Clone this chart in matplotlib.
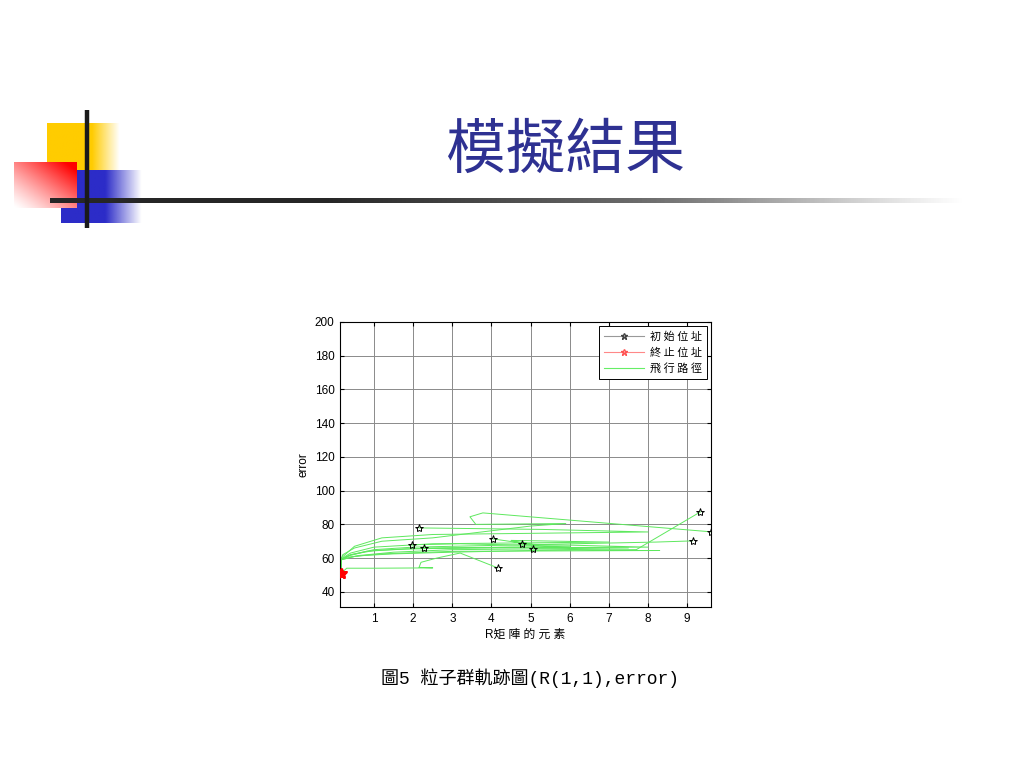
import matplotlib
matplotlib.use('Agg')
import matplotlib.pyplot as plt
import numpy as np
from matplotlib.lines import Line2D

plt.rcParams['font.family'] = ['Liberation Sans', 'Noto Sans CJK TC', 'DejaVu Sans']

# Particle start positions (black stars)
start_x = [9.34, 9.60, 9.14, 5.06, 4.78, 4.16, 4.03, 2.15, 1.97, 2.28]
start_y = [87.4, 75.6, 70.2, 65.5, 68.4, 54.2, 71.4, 77.9, 67.9, 66.0]

# Particle end positions (red stars)
end_x = [0.16, 0.15, 0.17, 0.16, 0.15, 0.16, 0.17, 0.16, 0.15, 0.16]
end_y = [50.7, 51.2, 50.3, 51.0, 50.5, 50.9, 51.3, 50.6, 50.8, 51.1]

# Flight paths (green), one list per particle
path_x = [
    [9.34, 7.7, 5.0, 3.0, 1.5, 0.7, 0.3, 0.16, 0.16],
    [9.60, 3.78, 3.45, 3.6, 5.9, 5.0, 2.5, 1.2, 0.5, 0.2, 0.16, 0.15],
    [9.14, 8.2, 4.0, 2.0, 1.0, 0.4, 0.16, 0.17],
    [5.06, 7.7, 8.3, 3.0, 1.2, 0.5, 0.16, 0.16],
    [4.78, 8.0, 3.5, 1.8, 0.8, 0.3, 0.16, 0.15],
    [4.16, 3.2, 2.6, 2.2, 2.15, 2.5, 1.0, 0.3, 0.16],
    [4.03, 5.2, 4.5, 7.0, 2.5, 1.0, 0.4, 0.16, 0.17],
    [2.15, 5.3, 8.0, 2.5, 1.2, 0.5, 0.16, 0.16],
    [1.97, 3.2, 6.0, 2.0, 1.0, 0.4, 0.16, 0.15],
    [2.28, 4.5, 7.5, 3.0, 1.5, 0.6, 0.16, 0.16],
]
path_y = [
    [87.4, 65.0, 64.5, 63.5, 62.5, 61.5, 60.5, 59.0, 50.7],
    [75.6, 86.8, 84.5, 80.0, 80.5, 79.0, 72.0, 70.0, 66.0, 62.0, 59.5, 51.2],
    [70.2, 69.5, 67.5, 66.5, 65.0, 62.0, 59.0, 50.3],
    [65.5, 64.5, 64.5, 64.0, 62.5, 61.0, 59.0, 51.0],
    [68.4, 66.5, 66.0, 65.5, 64.0, 61.0, 59.0, 50.5],
    [54.2, 63.0, 60.0, 57.5, 54.5, 54.2, 54.0, 54.0, 50.9],
    [71.4, 67.5, 70.5, 69.5, 68.5, 66.5, 63.0, 59.5, 51.3],
    [77.9, 77.0, 75.5, 74.0, 72.0, 67.0, 60.0, 50.6],
    [67.9, 68.5, 67.0, 65.5, 64.5, 62.0, 59.0, 50.8],
    [66.0, 66.5, 66.0, 65.0, 63.5, 61.5, 59.0, 51.1],
]

x_ticks = [1, 2, 3, 4, 5, 6, 7, 8, 9]
y_ticks = [40, 60, 80, 100, 120, 140, 160, 180, 200]
legend_labels = ['初 始 位 址', '終 止 位 址', '飛 行 路 徑']

fig = plt.figure(figsize=(10.24, 7.68), dpi=100)

# slide decoration layer in pixel coordinates
deco = fig.add_axes([0, 0, 1, 1])
deco.set_xlim(0, 1024)
deco.set_ylim(768, 0)
deco.axis('off')

def hgrad(rgb, x0, x1, y0, y1, solid_frac):
    w = 100
    xn = np.linspace(0, 1, w)
    a = np.where(xn < solid_frac, 1.0, 1 - (xn - solid_frac) / (1 - solid_frac))
    img = np.zeros((2, w, 4))
    img[..., :3] = np.array(rgb) / 255.0
    img[..., 3] = a
    deco.imshow(img, extent=(x0, x1, y1, y0), aspect='auto', interpolation='bilinear', zorder=1)

hgrad((255, 204, 0), 47, 120, 123, 170, 0.62)
hgrad((44, 44, 200), 61, 142, 170, 223, 0.55)

# red block: strong at top-right, fading towards bottom-left
xn, yn = np.meshgrid(np.linspace(0, 1, 60), np.linspace(0, 1, 50))
red = np.zeros((50, 60, 4))
red[..., 0] = 1.0
red[..., 3] = np.clip(0.55 * xn + 0.55 * (1 - yn), 0, 1) ** 1.2
white = np.ones((50, 60, 4))
deco.imshow(white, extent=(14, 77, 208, 162), aspect='auto', zorder=2)
deco.imshow(red, extent=(14, 77, 208, 162), aspect='auto', interpolation='bilinear', zorder=3)

# horizontal rule fading to the right
hl = np.zeros((1, 200, 4))
t = np.linspace(0, 1, 200)
hl[..., :3] = (0.15 + 0.55 * np.clip((t - 0.3) / 0.7, 0, 1))[None, :, None]
hl[..., 3] = 1 - np.clip((t - 0.65) / 0.35, 0, 1) ** 1.5
deco.imshow(hl, extent=(50, 965, 203, 198), aspect='auto', interpolation='bilinear', zorder=4)
deco.plot([87, 87], [110, 228], color='#1a1a1a', lw=3.2, solid_capstyle='butt', zorder=5)

fig.text(0.552, 0.803, '模擬結果', fontsize=43, color='#2E3192',
         family=['Noto Sans CJK TC'], ha='center', va='center')

# chart
ax = fig.add_axes([340 / 1024, 1 - 607 / 768, 371 / 1024, 285 / 768])
for px, py in zip(path_x, path_y):
    ax.plot(px, py, color='#5ee85e', lw=0.7, zorder=2)
ax.plot(start_x, start_y, ls='none', marker='*', ms=6, mfc='none', mec='black', mew=0.7, zorder=3)
ax.plot(end_x, end_y, ls='none', marker='*', ms=7, mfc='red', mec='red', mew=0.7, zorder=4)

ax.set_xlim(0.13, 9.61)
ax.set_ylim(31, 200)
ax.set_xticks(x_ticks)
ax.set_yticks(y_ticks)
ax.grid(True, color='#8a8a8a', lw=0.7)
ax.set_axisbelow(True)
ax.tick_params(direction='in', length=3, width=0.8, labelsize=8.5, top=True, right=True, pad=4)
for s in ax.spines.values():
    s.set_linewidth(0.8)
ax.set_xlabel('R矩 陣 的 元 素', fontsize=8.5, labelpad=3)
ax.set_ylabel('error', fontsize=8.5, labelpad=4)

handles = [
    Line2D([], [], color='#999999', lw=0.8, marker='*', ms=5, mfc='none', mec='#444444'),
    Line2D([], [], color='#ff8888', lw=0.8, marker='*', ms=5, mfc='none', mec='#ff5555'),
    Line2D([], [], color='#66ee66', lw=0.8),
]
leg = ax.legend(handles, legend_labels, loc='upper right', fancybox=False,
                edgecolor='black', framealpha=1, borderaxespad=0.4, handlelength=3.6,
                handletextpad=0.5, labelspacing=0.5, borderpad=0.45,
                prop={'family': ['Noto Sans CJK TC'], 'size': 8})
leg.get_frame().set_linewidth(0.7)

fig.text(0.518, 0.117, '圖5 粒子群軌跡圖(R(1,1),error)', fontsize=13, color='black',
         family=['Liberation Mono', 'Noto Sans CJK TC'], ha='center', va='center')

fig.savefig('out.png', dpi=100)
